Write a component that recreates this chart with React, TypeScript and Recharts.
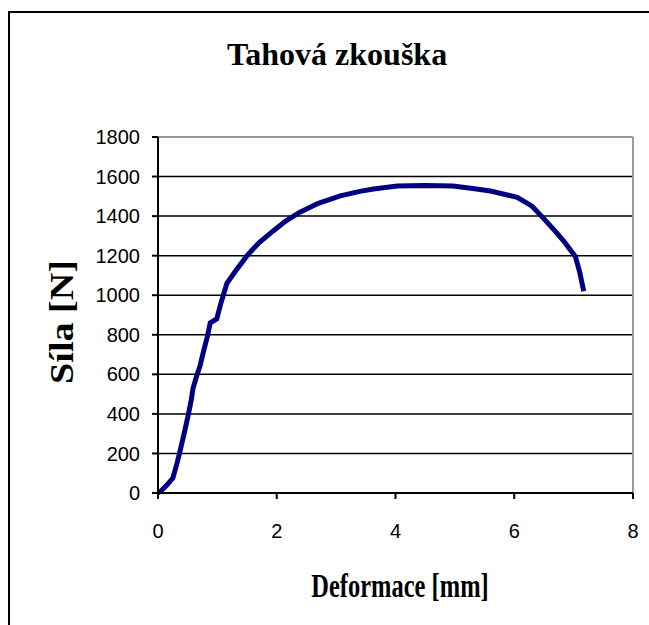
import React from 'react'
import { LineChart, Line, XAxis, YAxis, CartesianGrid, ReferenceLine } from 'recharts'

// deformation [mm] and force [N]
const deformation = [
  0, 0.05, 0.15, 0.25, 0.32, 0.37, 0.44, 0.51, 0.56, 0.59, 0.65, 0.71, 0.77, 0.83, 0.88, 0.99,
  1.05, 1.1, 1.16, 1.3, 1.5, 1.7, 1.94, 2.15, 2.39, 2.7, 3.07, 3.4, 3.63, 4.03, 4.5, 4.97,
  5.3, 5.6, 6.05, 6.3, 6.49, 6.7, 6.83, 7.03, 7.1, 7.17,
]
const force = [
  0, 10, 40, 75, 150, 210, 300, 395, 470, 530, 590, 645, 720, 790, 860, 880,
  950, 1000, 1060, 1120, 1200, 1265, 1325, 1375, 1420, 1465, 1502, 1525, 1537, 1552, 1555, 1552,
  1540, 1527, 1495, 1450, 1390, 1320, 1275, 1195, 1120, 1020,
]
const xTicks = [0, 2, 4, 6, 8]
const yTicks = [0, 200, 400, 600, 800, 1000, 1200, 1400, 1600, 1800]

const data = deformation.map((x, i) => ({ x, y: force[i] }))

const serif = '"Liberation Serif", "Times New Roman", serif'
const tickStyle = { fontFamily: '"Liberation Sans", Arial, sans-serif', fontSize: 20, fill: '#000' }

export default function App() {
  return (
    <div
      style={{
        position: 'fixed',
        left: 0,
        top: 0,
        width: 649,
        height: 625,
        overflow: 'hidden',
        background: '#fff',
      }}
    >
      {/* outer chart frame, right and bottom edges run off the picture */}
      <div
        style={{
          position: 'absolute',
          left: 8,
          top: 11,
          width: 900,
          height: 900,
          borderTop: '2px solid #000',
          borderLeft: '2px solid #000',
        }}
      />
      <div
        style={{
          position: 'absolute',
          left: 337,
          top: 54,
          transform: 'translate(-50%, -50%)',
          fontFamily: serif,
          fontWeight: 700,
          fontSize: 32,
          whiteSpace: 'nowrap',
        }}
      >
        Tahová zkouška
      </div>
      <div style={{ position: 'absolute', left: 0, top: 0 }}>
        <LineChart width={649} height={625} data={data} margin={{ top: 137, right: 16, bottom: 102, left: 0 }}>
          <CartesianGrid vertical={false} stroke="#000" strokeWidth={1.5} />
          <XAxis
            type="number"
            dataKey="x"
            domain={[0, 8]}
            ticks={xTicks}
            height={30}
            axisLine={{ stroke: '#000', strokeWidth: 2 }}
            tickLine={{ stroke: '#000', strokeWidth: 2 }}
            tickSize={6}
            tickMargin={25}
            tick={tickStyle}
          />
          <YAxis
            type="number"
            domain={[0, 1800]}
            ticks={yTicks}
            width={158}
            axisLine={{ stroke: '#000', strokeWidth: 2 }}
            tickLine={{ stroke: '#000', strokeWidth: 2 }}
            tickSize={6}
            tickMargin={12}
            tick={tickStyle}
          />
          <ReferenceLine y={1800} stroke="#999" strokeWidth={2} />
          <ReferenceLine x={8} stroke="#999" strokeWidth={2} />
          <Line
            type="linear"
            dataKey="y"
            stroke="#000080"
            strokeWidth={5}
            dot={false}
            isAnimationActive={false}
          />
        </LineChart>
      </div>
      <div
        style={{
          position: 'absolute',
          left: 62,
          top: 322,
          transform: 'translate(-50%, -50%) rotate(-90deg) scale(1.12, 1)',
          fontFamily: serif,
          fontWeight: 700,
          fontSize: 34,
          whiteSpace: 'nowrap',
        }}
      >
        Síla [N]
      </div>
      <div
        style={{
          position: 'absolute',
          left: 400,
          top: 586,
          transform: 'translate(-50%, -50%) scale(0.72, 1)',
          fontFamily: serif,
          fontWeight: 700,
          fontSize: 34,
          whiteSpace: 'nowrap',
        }}
      >
        Deformace [mm]
      </div>
    </div>
  )
}
